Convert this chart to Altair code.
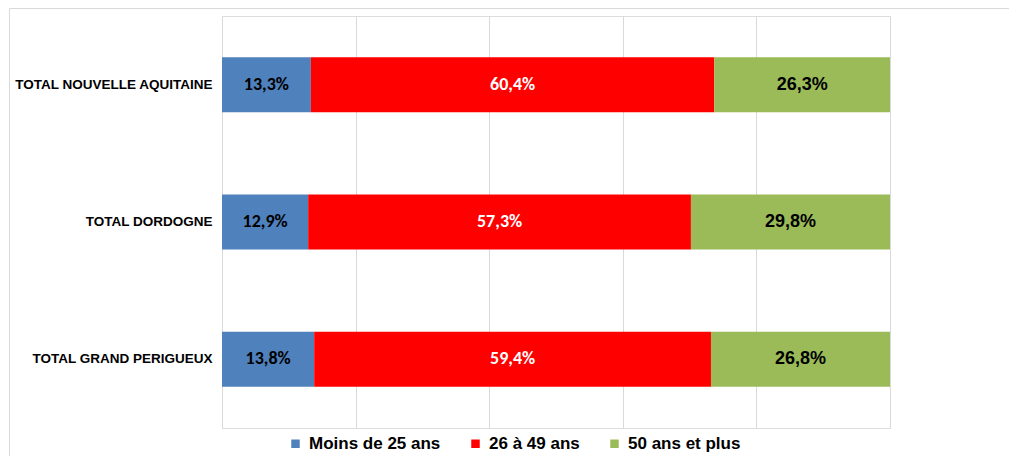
import altair as alt
import pandas as pd

regions = ["TOTAL NOUVELLE AQUITAINE", "TOTAL DORDOGNE", "TOTAL GRAND PERIGUEUX"]
groups = ["Moins de 25 ans", "26 à 49 ans", "50 ans et plus"]
colors = ["#4f81bd", "#ff0000", "#9bbb59"]
label_colors = ["#000000", "#ffffff", "#000000"]
moins25 = [13.3, 12.9, 13.8]
de26a49 = [60.4, 57.3, 59.4]
plus50 = [26.3, 29.8, 26.8]

rows = []
for i, r in enumerate(regions):
    for j, (g, vals) in enumerate(zip(groups, [moins25, de26a49, plus50])):
        rows.append({"region": r, "group": g, "order": j, "value": vals[i],
                     "label": f"{vals[i]:.1f}%".replace(".", ","),
                     "lcolor": label_colors[j]})
df = pd.DataFrame(rows)

base = alt.Chart(df).transform_stack(
    stack="value", groupby=["region"], as_=["x0", "x1"],
    sort=[alt.SortField("order", order="ascending")]
).transform_calculate(mid="(datum.x0 + datum.x1) / 2")

yenc = alt.Y("region:N", sort=regions, title=None,
             scale=alt.Scale(paddingInner=0.6, paddingOuter=0.3),
             axis=alt.Axis(labelFont="Liberation Sans", labelFontWeight="bold",
                           labelFontSize=13.5, labelColor="#000000", labelPadding=10,
                           domain=False, ticks=False, labelLimit=260))

bars = base.mark_bar().encode(
    x=alt.X("x0:Q", scale=alt.Scale(domain=[0, 100]), title=None,
            axis=alt.Axis(values=[0, 20, 40, 60, 80, 100], labels=False, ticks=False,
                          domain=False, grid=True, gridColor="#d9d9d9", gridWidth=1)),
    x2="x1:Q",
    y=yenc,
    color=alt.Color("group:N", sort=groups,
                    scale=alt.Scale(domain=groups, range=colors),
                    legend=alt.Legend(title=None, orient="none", direction="horizontal",
                                      legendX=65, legendY=419,
                                      labelFont="Liberation Sans",
                                      labelFontWeight="bold", labelFontSize=17,
                                      labelColor="#000000", symbolType="square",
                                      symbolSize=72, symbolStrokeWidth=0,
                                      columnPadding=26, labelOffset=5)),
)

texts_a = base.transform_filter("datum.order < 2").mark_text(
    font="Carlito, Lato, sans-serif", fontWeight="bold", fontSize=18).encode(
    x=alt.X("mid:Q"),
    y=alt.Y("region:N", sort=regions),
    text="label:N",
    color=alt.Color("lcolor:N", scale=None),
)

texts_b = base.transform_filter("datum.order == 2").mark_text(
    font="Liberation Sans", fontWeight="bold", fontSize=18).encode(
    x=alt.X("mid:Q"),
    y=alt.Y("region:N", sort=regions),
    text="label:N",
    color=alt.Color("lcolor:N", scale=None),
)

border = alt.Chart(pd.DataFrame({"a": [0]})).mark_rect(
    fill=None, stroke="#d9d9d9", strokeWidth=1
).encode(x=alt.value(-212.5), x2=alt.value(900), y=alt.value(-7.5), y2=alt.value(600))

chart = alt.layer(border, bars, texts_a, texts_b).properties(
    width=668, height=412,
    autosize=alt.AutoSizeParams(type="none"),
    padding={"left": 214, "top": 8, "right": 119, "bottom": 28},
).configure_view(stroke=None).configure(background="white")

chart.save("out.html", embed_options={"renderer": "svg", "actions": False})
